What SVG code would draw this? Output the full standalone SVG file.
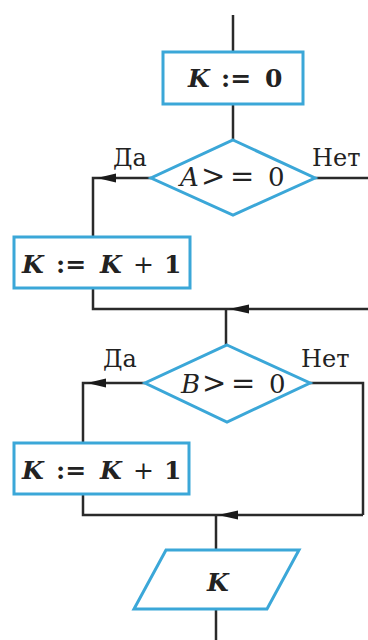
<svg xmlns="http://www.w3.org/2000/svg" width="368" height="640" viewBox="0 0 368 640">
<style>
.blk{fill:#fff;stroke:#3ba7d8;stroke-width:3}
.ln{fill:none;stroke:#2a2a2a;stroke-width:2.5}
.ar{fill:#1a1a1a}
text{font-family:"DejaVu Serif","Liberation Serif",serif;fill:#222;font-size:25px}
.v{font-style:italic;font-weight:bold}
.n{font-weight:bold}
.i{font-style:italic}
.op{font-size:29px}
.c{font-size:26px}
.lab{font-size:24px}
</style>
<rect width="368" height="640" fill="#fff"/>
<g id="connectors">
<path class="ln" d="M233 15V52"/>
<path class="ln" d="M233 104V140"/>
<path class="ln" d="M151 178H93V237"/>
<path class="ln" d="M315 178H368"/>
<path class="ln" d="M93 288V309H368"/>
<path class="ln" d="M226 309V345"/>
<path class="ln" d="M145 383H83V443"/>
<path class="ln" d="M310 383H363V515"/>
<path class="ln" d="M83 494V515H363"/>
<path class="ln" d="M216 515V550"/>
<path class="ln" d="M216 609V640"/>
<polygon class="ar" points="97,178 116,173.5 116,182.5"/>
<polygon class="ar" points="229,309 249,304.5 249,313.5"/>
<polygon class="ar" points="87,383 106,378.5 106,387.5"/>
<polygon class="ar" points="218,515 238,510.5 238,519.5"/>
</g>
<g id="k0">
<rect class="blk" x="163" y="52" width="140" height="52"/>
<text y="87"><tspan class="v" x="188">K</tspan><tspan class="n" x="221">:=</tspan><tspan class="n" x="265">0</tspan></text>
</g>
<g id="condA">
<polygon class="blk" points="233,140 315,178 233,215 151,178"/>
<text class="c" y="186"><tspan class="i" x="180">A</tspan><tspan class="op" x="201">&gt;</tspan><tspan class="op" x="230">=</tspan><tspan x="268">0</tspan></text>
<text class="lab" x="113" y="166">Да</text>
<text class="lab" x="312" y="166">Нет</text>
</g>
<g id="inc1">
<rect class="blk" x="14" y="237" width="176" height="51"/>
<text y="273"><tspan class="v" x="22">K</tspan><tspan class="n" x="56">:=</tspan><tspan class="v" x="100">K</tspan><tspan x="133">+</tspan><tspan class="n" x="164">1</tspan></text>
</g>
<g id="condB">
<polygon class="blk" points="227,345 310,383 227,422 145,383"/>
<text class="c" y="393"><tspan class="i" x="181">B</tspan><tspan class="op" x="202">&gt;</tspan><tspan class="op" x="231">=</tspan><tspan x="269">0</tspan></text>
<text class="lab" x="103" y="367">Да</text>
<text class="lab" x="301" y="367">Нет</text>
</g>
<g id="inc2">
<rect class="blk" x="14" y="443" width="175" height="51"/>
<text y="479"><tspan class="v" x="22">K</tspan><tspan class="n" x="56">:=</tspan><tspan class="v" x="100">K</tspan><tspan x="133">+</tspan><tspan class="n" x="164">1</tspan></text>
</g>
<g id="out">
<polygon class="blk" points="166,550 299,550 267,609 134,609"/>
<text class="v" x="207" y="591">K</text>
</g>
</svg>
